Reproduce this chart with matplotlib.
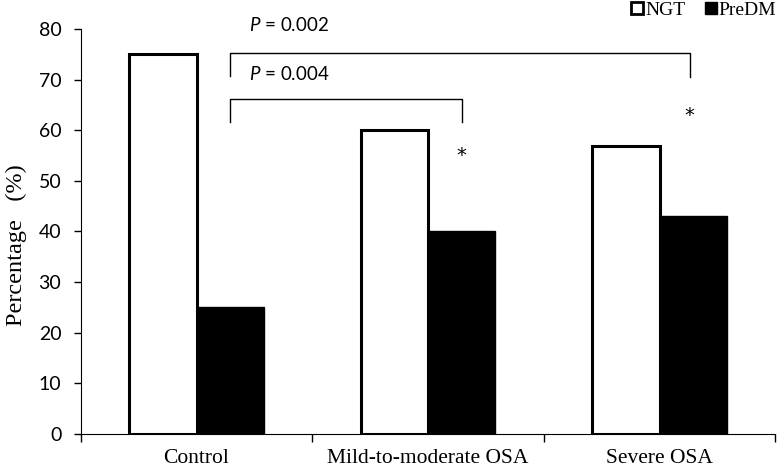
import matplotlib.pyplot as plt
import numpy as np
from matplotlib.lines import Line2D

# 数据
categories = ['Control', 'Mild-to-moderate OSA', 'Severe OSA']
ngt = [75.0, 60.0, 56.9]
predm = [25.0, 40.0, 43.1]
yticks = [0, 10, 20, 30, 40, 50, 60, 70, 80]

serif = ['Liberation Serif', 'DejaVu Serif']
sans = ['Lato', 'DejaVu Sans']
plt.rcParams['mathtext.fontset'] = 'custom'
plt.rcParams['mathtext.it'] = 'Lato:italic'
plt.rcParams['mathtext.rm'] = 'Lato'

fig = plt.figure(figsize=(7.84, 4.68), dpi=100)
ax = fig.add_axes([0.103, 0.073, 0.886, 0.865])

x = np.arange(len(categories))
w = 0.29
ax.bar(x - w / 2, ngt, w, color='white', edgecolor='black', linewidth=2.2)
ax.bar(x + w / 2, predm, w, color='black', edgecolor='black', linewidth=1)

ax.set_xlim(-0.5, 2.5)
ax.set_ylim(0, 80)
ax.set_yticks(yticks)
ax.set_xticks(x)
ax.set_xticklabels(categories, fontfamily=serif, fontsize=15.5)
ax.set_xticks([-0.5, 0.5, 1.5, 2.5], minor=True)
ax.tick_params(axis='x', which='major', length=0, pad=11)
ax.tick_params(axis='x', which='minor', length=6, width=1)
ax.tick_params(axis='y', length=5, width=1, labelsize=14, pad=9)
for lab in ax.get_yticklabels():
    lab.set_fontfamily(sans)
ax.spines['top'].set_visible(False)
ax.spines['right'].set_visible(False)
ax.set_ylabel('Percentage   (%)', fontfamily=serif, fontsize=17.5)
ax.yaxis.set_label_coords(-0.077, 0.465)

# 显著性括号
def bracket(x1, x2, y, drop1, drop2):
    ax.plot([x1, x1, x2, x2], [y - drop1, y, y, y - drop2], color='black', linewidth=1)

xl = 0 + w / 2
bracket(xl, 2 + w / 2 - 0.015, 75.2, 4.4, 4.6)
bracket(xl, 1 + w / 2, 66.2, 4.6, 4.6)
ax.text(0.228, 80.7, r'$P$ = 0.002', fontfamily=sans, fontsize=13.5, va='center', clip_on=False)
ax.text(0.228, 71.1, r'$P$ = 0.004', fontfamily=sans, fontsize=13.5, va='center')
ax.text(1 + w / 2, 55.0, '*', fontfamily='DejaVu Sans', fontsize=14, ha='center', va='center')
ax.text(2 + w / 2 - 0.015, 63.0, '*', fontfamily='DejaVu Sans', fontsize=14, ha='center', va='center')

# 图例
handles = [
    Line2D([], [], marker='s', linestyle='none', markersize=8, markerfacecolor='white',
           markeredgecolor='black', markeredgewidth=2),
    Line2D([], [], marker='s', linestyle='none', markersize=9, markerfacecolor='black',
           markeredgecolor='black'),
]
fig.legend(handles, ['NGT', 'PreDM'], loc='upper right', bbox_to_anchor=(1.012, 1.035),
           ncol=2, frameon=False, handlelength=0.6, handletextpad=0.1, columnspacing=1.0,
           prop={'family': serif, 'size': 14})

fig.savefig('out.png', dpi=100)
